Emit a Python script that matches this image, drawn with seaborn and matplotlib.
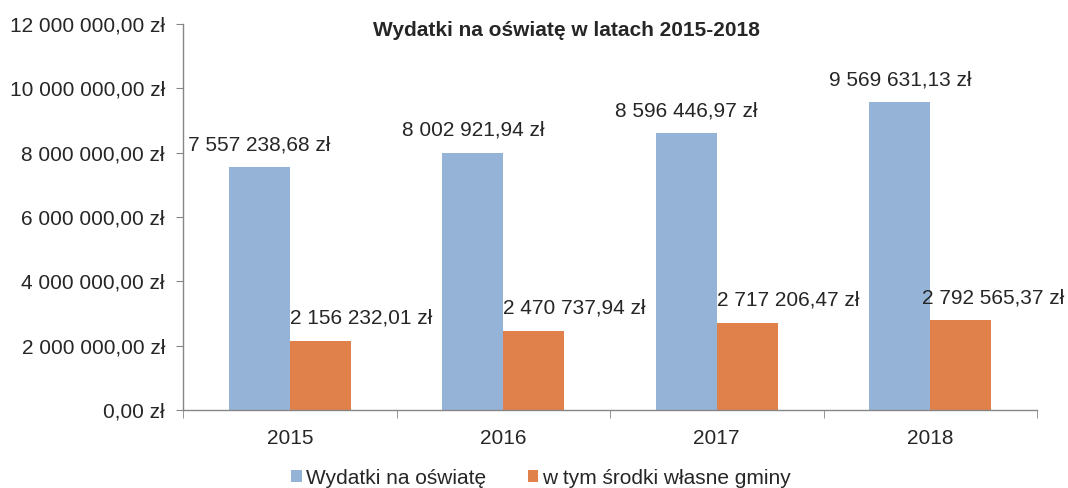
import matplotlib
matplotlib.use("Agg")
import matplotlib.pyplot as plt
import seaborn as sns
import pandas as pd
from matplotlib.ticker import FuncFormatter, FixedLocator
from matplotlib.patches import Patch

years = ["2015", "2016", "2017", "2018"]
series_names = ["Wydatki na oświatę", "w tym środki własne gminy"]
wydatki = [7557238.68, 8002921.94, 8596446.97, 9569631.13]
wlasne = [2156232.01, 2470737.94, 2717206.47, 2792565.37]
colors = ["#95B3D7", "#E0804A"]

df = pd.DataFrame({
    "rok": years * 2,
    "seria": [series_names[0]] * 4 + [series_names[1]] * 4,
    "wartosc": wydatki + wlasne,
})

def pl(v, dec=2):
    s = f"{v:,.{dec}f}"
    s = s.replace(",", " ").replace(".", ",")
    return s + " zł"

sns.set_style("white")
plt.rcParams["font.family"] = ["Liberation Sans", "DejaVu Sans"]
FS = 15

fig = plt.figure(figsize=(10.68, 4.88), dpi=100)
ax = fig.add_axes([183/1068, 1-410/488, (1037-183)/1068, (410-24)/488])

sns.barplot(data=df, x="rok", y="wartosc", hue="seria", palette=colors,
            width=0.57, ax=ax, legend=False, saturation=1, linewidth=0)

ax.set_ylim(0, 12000000)
ax.set_xlim(-0.5, 3.5)
ax.set_yticks(range(0, 12000001, 2000000))
ax.yaxis.set_major_formatter(FuncFormatter(lambda v, p: pl(v)))
ax.set_xlabel("")
ax.set_ylabel("")

for sp in ["top", "right"]:
    ax.spines[sp].set_visible(False)
for sp in ["left", "bottom"]:
    ax.spines[sp].set_color("#868686")
    ax.spines[sp].set_linewidth(1.0)

ax.tick_params(axis="y", which="major", direction="out", length=5, color="#868686",
               labelsize=FS, left=True, pad=8)
ax.tick_params(axis="x", which="major", length=0, labelsize=FS, pad=14)
ax.xaxis.set_minor_locator(FixedLocator([-0.5, 0.5, 1.5, 2.5, 3.5]))
ax.tick_params(axis="x", which="minor", direction="out", length=6, color="#868686", bottom=True)

texts = []
for i, cont in enumerate(ax.containers):
    for bar in cont:
        h = bar.get_height()
        if i == 0:
            x, ha = bar.get_x() + bar.get_width()/2, "center"
        else:
            x, ha = bar.get_x(), "left"
        t = ax.annotate(pl(h), (x, h), xytext=(0, 16), textcoords="offset points",
                        ha=ha, va="center", fontsize=FS, annotation_clip=False)
        texts.append(t)

fig.canvas.draw()
renderer = fig.canvas.get_renderer()
W = fig.bbox.width
for t in texts:
    bb = t.get_window_extent(renderer)
    over = bb.x1 - (W - 4)
    if over > 0:
        ox, oy = t.xyann
        t.xyann = (ox - over * 72 / fig.dpi, oy)

fig.text(566/1068, 1-30/488, "Wydatki na oświatę w latach 2015-2018",
         ha="center", va="center", fontsize=FS, fontweight="bold")

handles = [Patch(facecolor=c, edgecolor="none") for c in colors]
fig.legend(handles, series_names, loc="center", bbox_to_anchor=(541/1068, 1-478/488),
           ncol=2, frameon=False, fontsize=FS, handlelength=0.5, handleheight=0.5,
           handletextpad=0.2, columnspacing=2.0)

fig.savefig("out.png", dpi=100)
